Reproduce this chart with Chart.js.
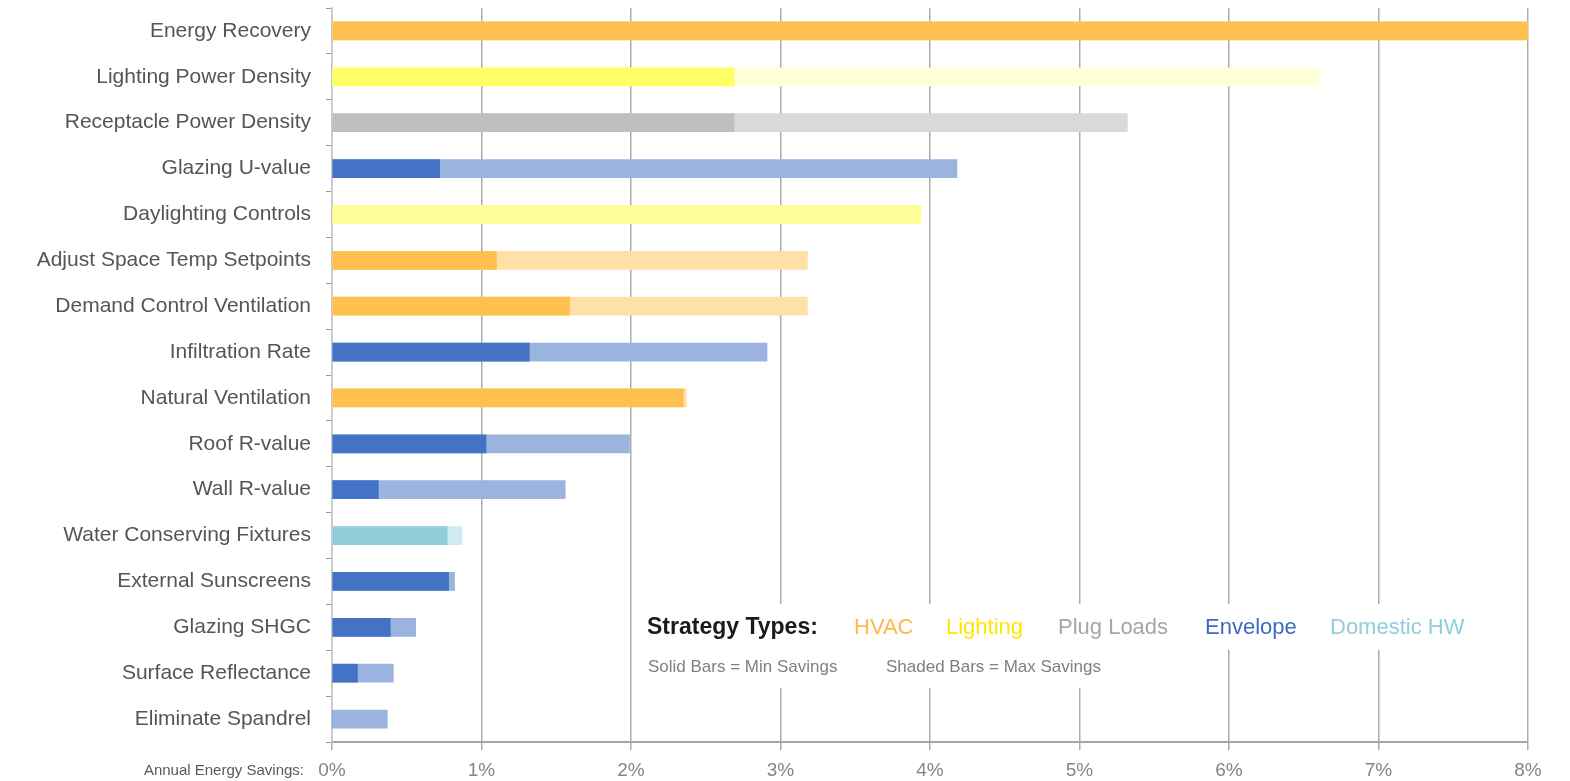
<!DOCTYPE html>
<html>
<head>
<meta charset="utf-8">
<title>Annual Energy Savings by Strategy</title>
<script src="https://cdn.jsdelivr.net/npm/chart.js@4.4.1/dist/chart.umd.min.js"></script>
<style>
  html, body { margin: 0; padding: 0; background: #fff; }
  #wrap { position: relative; width: 1570px; height: 781px; }
</style>
</head>
<body>
<div id="wrap"><canvas id="savingsChart"></canvas></div>
<script>
// Strategies, top to bottom
const strategies = [
    'Energy Recovery', 'Lighting Power Density', 'Receptacle Power Density', 'Glazing U-value',
    'Daylighting Controls', 'Adjust Space Temp Setpoints', 'Demand Control Ventilation', 'Infiltration Rate',
    'Natural Ventilation', 'Roof R-value', 'Wall R-value', 'Water Conserving Fixtures',
    'External Sunscreens', 'Glazing SHGC', 'Surface Reflectance', 'Eliminate Spandrel'
];
const strategyTypes = [
    'HVAC', 'Lighting', 'Plug Loads', 'Envelope',
    'Lighting', 'HVAC', 'HVAC', 'Envelope',
    'HVAC', 'Envelope', 'Envelope', 'Domestic HW',
    'Envelope', 'Envelope', 'Envelope', 'Envelope'
];
// annual energy savings, % of baseline
const minSavings = [8.0, 2.69, 2.69, 0.72, 0, 1.10, 1.59, 1.32, 2.35, 1.03, 0.31, 0.77, 0.78, 0.39, 0.17, 0];
const maxSavings = [8.0, 6.61, 5.32, 4.18, 3.94, 3.18, 3.18, 2.91, 2.37, 1.99, 1.56, 0.87, 0.82, 0.56, 0.41, 0.37];
const xTicks = [0, 1, 2, 3, 4, 5, 6, 7, 8];
const legendTypes = ['HVAC', 'Lighting', 'Plug Loads', 'Envelope', 'Domestic HW'];

// colours per strategy type
const solidColors = {
    'HVAC': '#FFC04F', 'Lighting': '#FFFF66', 'Plug Loads': '#BFBFBF',
    'Envelope': '#4472C4', 'Domestic HW': '#92CDDC'
};
const shadedColors = {
    'HVAC': '#FFE0A6', 'Lighting': '#FFFFD9', 'Plug Loads': '#D9D9D9',
    'Envelope': '#9BB3DF', 'Domestic HW': '#CFEAF1'
};
const shadedOverride = { 'Daylighting Controls': '#FFFF99' };
const legendTextColors = {
    'HVAC': '#FDB94A', 'Lighting': '#FFE600', 'Plug Loads': '#A6A6A6',
    'Envelope': '#4169C0', 'Domestic HW': '#92CDDC'
};

const FONT = "'Liberation Sans', Arial, sans-serif";
Chart.defaults.font.family = FONT;

// legend text block + axis caption
const annotations = {
    id: 'annotations',
    afterDraw(chart) {
        const ctx = chart.ctx;
        ctx.save();
        // white backing behind the legend text
        ctx.fillStyle = '#ffffff';
        ctx.fillRect(640, 604, 850, 46);
        ctx.fillRect(640, 650, 500, 38);

        ctx.textBaseline = 'middle';
        ctx.textAlign = 'left';
        ctx.font = 'bold 23px ' + FONT;
        ctx.fillStyle = '#1a1a1a';
        ctx.fillText('Strategy Types:', 647, 628);

        const typeX = [854, 946, 1058, 1205, 1330];
        ctx.font = '22px ' + FONT;
        legendTypes.forEach((t, i) => {
            ctx.fillStyle = legendTextColors[t];
            ctx.fillText(t, typeX[i], 628);
        });

        ctx.font = '17px ' + FONT;
        ctx.fillStyle = '#808080';
        ctx.fillText('Solid Bars = Min Savings', 648, 667);
        ctx.fillText('Shaded Bars = Max Savings', 886, 667);

        ctx.textAlign = 'right';
        ctx.font = '15px ' + FONT;
        ctx.fillStyle = '#595959';
        ctx.fillText('Annual Energy Savings:', 304, 771);
        ctx.restore();
    }
};

new Chart(document.getElementById('savingsChart'), {
    type: 'bar',
    data: {
        labels: strategies,
        datasets: [{
            label: 'Min Savings',
            data: minSavings,
            backgroundColor: strategyTypes.map(t => solidColors[t]),
            barThickness: 18,
            grouped: false
        }, {
            label: 'Max Savings',
            data: maxSavings,
            backgroundColor: strategies.map((s, i) => shadedOverride[s] || shadedColors[strategyTypes[i]]),
            barThickness: 18,
            grouped: false
        }]
    },
    options: {
        indexAxis: 'y',
        responsive: true,
        maintainAspectRatio: false,
        animation: false,
        layout: { padding: { top: 8, right: 42, bottom: 0, left: 0 } },
        plugins: {
            legend: { display: false },
            tooltip: { enabled: false }
        },
        scales: {
            x: {
                min: 0,
                max: 8,
                afterBuildTicks: axis => { axis.ticks = xTicks.map(v => ({ value: v })); },
                afterFit: axis => { axis.height = 39; },
                grid: {
                    color: '#ababab',
                    lineWidth: 1.5,
                    drawTicks: true,
                    tickLength: 8
                },
                border: { display: true, color: '#a6a6a6', width: 2 },
                ticks: {
                    padding: 9,
                    color: '#858585',
                    font: { size: 19 },
                    callback: v => v + '%'
                }
            },
            y: {
                afterFit: axis => {
                    axis.width = 332;
                    axis.paddingTop = 0;
                    axis.paddingBottom = 0;
                },
                grid: {
                    drawOnChartArea: false,
                    drawTicks: true,
                    tickLength: 6,
                    color: '#9a9a9a'
                },
                border: { display: true, color: '#c8c8c8', width: 1.5 },
                ticks: {
                    padding: 15,
                    color: '#555555',
                    font: { size: 21 }
                }
            }
        }
    },
    plugins: [annotations]
});
</script>
</body>
</html>
